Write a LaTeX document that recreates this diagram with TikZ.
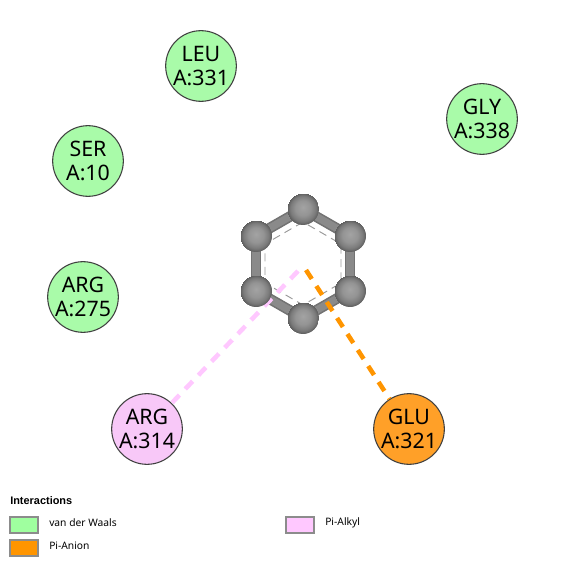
\documentclass[tikz,border=0pt]{standalone}
\usepackage{fontspec}
\setmainfont{Noto Sans}
\newfontfamily\legbold{Liberation Sans}
\definecolor{vdw}{HTML}{A9FBA9}
\definecolor{vdwleg}{HTML}{9FFF9F}
\definecolor{alkyl}{HTML}{F8C8F8}
\definecolor{alkylleg}{HTML}{FFC8FF}
\definecolor{anion}{HTML}{FFA028}
\definecolor{anionleg}{HTML}{FF9500}
\definecolor{bondc}{HTML}{8A8A8A}
\definecolor{legedge}{HTML}{8C8C8C}
\pgfdeclareradialshading{atomball}{\pgfpoint{0pt}{3pt}}{
  color(0pt)=(black!36); color(12pt)=(black!42); color(20pt)=(black!52); color(25pt)=(black!64)}
\tikzset{
  x=0.75pt,y=-0.75pt,
  residue/.style={circle,draw=black!75,line width=0.8pt,minimum size=53pt,inner sep=0pt,align=center,
    font=\fontsize{16}{17.6}\selectfont},
  atom/.style={circle,shading=atomball,minimum size=24pt,inner sep=0pt},
  bondout/.style={line width=8pt,draw=black!55},
  bondin/.style={line width=5.6pt,draw=bondc},
  arom/.style={line width=0.7pt,draw=black!40,dash pattern=on 6pt off 4pt},
  pialkyl/.style={line width=3.4pt,draw=alkylleg,dash pattern=on 8pt off 6.3pt},
  pianion/.style={line width=3.4pt,draw=anionleg,dash pattern=on 8pt off 6.3pt},
  legbox/.style={draw=legedge,line width=1.5pt,minimum width=21pt,minimum height=12.5pt,inner sep=0pt},
  legtext/.style={anchor=west,inner sep=0pt,font=\fontsize{7.7}{9}\selectfont},
  legtitle/.style={anchor=west,inner sep=0pt,font=\legbold\bfseries\fontsize{8.2}{9}\selectfont}
}
\begin{document}
\begin{tikzpicture}
\useasboundingbox (0,0) rectangle (565,566);
\fill[white] (0,0) rectangle (565,566);
\coordinate (ct) at (303,209);
\coordinate (cul) at (256,236);
\coordinate (cur) at (350,236);
\coordinate (cll) at (256,291);
\coordinate (clr) at (350,291);
\coordinate (cb) at (303,318);
% bonds
\foreach \a/\b in {ct/cul,ct/cur,cul/cll,cur/clr,cll/cb,clr/cb}{
  \draw[bondout] (\a)--(\b);
  \draw[bondin] (\a)--(\b);
}
% aromatic ring
\draw[arom] (303,222)--(265,244)--(265,283)--(303,305)--(341,283)--(341,244)--cycle;
% residues
\node[residue,fill=vdw] (leu) at (201,66) {LEU\\A:331};
\node[residue,fill=vdw] (gly) at (482,119) {GLY\\A:338};
\node[residue,fill=vdw] (ser) at (88,161) {SER\\A:10};
\node[residue,fill=vdw] (arg275) at (83,297) {ARG\\A:275};
\node[residue,fill=alkyl] (arg314) at (147,429) {ARG\\A:314};
\node[residue,fill=anion] (glu) at (409,429) {GLU\\A:321};
% interactions
\coordinate (pa) at (298,271);
\coordinate (pb) at (306,270);
\draw[pialkyl] (pa) -- (arg314);
\draw[pianion] (pb) -- (glu);
% atoms
\node[atom] (at) at (ct) {};
\node[atom] (aul) at (cul) {};
\node[atom] (aur) at (cur) {};
\node[atom] (all) at (cll) {};
\node[atom] (alr) at (clr) {};
\node[atom] (ab) at (cb) {};
% legend
\node[legtitle] (title) at (10,501) {Interactions};
\node[legbox,fill=vdwleg] (k1) at (24,525) {};
\node[legbox,fill=anionleg] (k2) at (24,548) {};
\node[legbox,fill=alkylleg] (k3) at (300,525) {};
\node[legtext] (t1) at (49,523) {van der Waals};
\node[legtext] (t2) at (49,546) {Pi-Anion};
\node[legtext] (t3) at (325,523) {Pi-Alkyl};
\end{tikzpicture}
\end{document}
